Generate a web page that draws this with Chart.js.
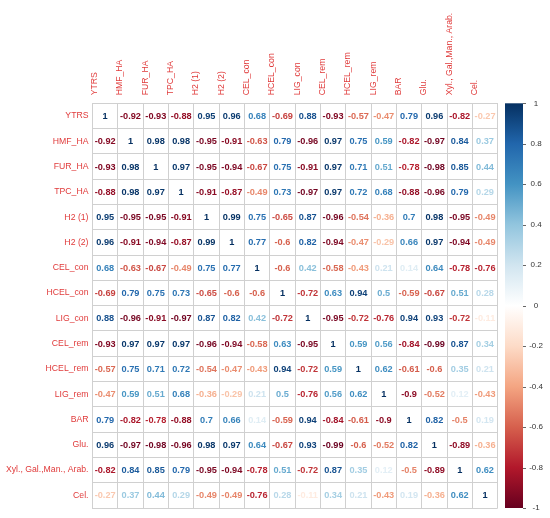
<!DOCTYPE html>
<html>
<head>
<meta charset="utf-8">
<script src="https://cdn.jsdelivr.net/npm/chart.js@4/dist/chart.umd.min.js"></script>
<style>
  html, body { margin: 0; padding: 0; background: #ffffff; overflow: hidden; }
  #wrap { position: relative; width: 550px; height: 518px; }
</style>
</head>
<body>
<div id="wrap"><canvas id="c"></canvas></div>
<script>
// ---- Data ----
const variables = ["YTRS", "HMF_HA", "FUR_HA", "TPC_HA", "H2 (1)", "H2 (2)", "CEL_con", "HCEL_con",
  "LIG_con", "CEL_rem", "HCEL_rem", "LIG_rem", "BAR", "Glu.", "Xyl., Gal.,Man., Arab.", "Cel."];

const rowYTRS    = [1, -0.92, -0.93, -0.88, 0.95, 0.96, 0.68, -0.69, 0.88, -0.93, -0.57, -0.47, 0.79, 0.96, -0.82, -0.27];
const rowHMF     = [-0.92, 1, 0.98, 0.98, -0.95, -0.91, -0.63, 0.79, -0.96, 0.97, 0.75, 0.59, -0.82, -0.97, 0.84, 0.37];
const rowFUR     = [-0.93, 0.98, 1, 0.97, -0.95, -0.94, -0.67, 0.75, -0.91, 0.97, 0.71, 0.51, -0.78, -0.98, 0.85, 0.44];
const rowTPC     = [-0.88, 0.98, 0.97, 1, -0.91, -0.87, -0.49, 0.73, -0.97, 0.97, 0.72, 0.68, -0.88, -0.96, 0.79, 0.29];
const rowH2a     = [0.95, -0.95, -0.95, -0.91, 1, 0.99, 0.75, -0.65, 0.87, -0.96, -0.54, -0.36, 0.7, 0.98, -0.95, -0.49];
const rowH2b     = [0.96, -0.91, -0.94, -0.87, 0.99, 1, 0.77, -0.6, 0.82, -0.94, -0.47, -0.29, 0.66, 0.97, -0.94, -0.49];
const rowCELcon  = [0.68, -0.63, -0.67, -0.49, 0.75, 0.77, 1, -0.6, 0.42, -0.58, -0.43, 0.21, 0.14, 0.64, -0.78, -0.76];
const rowHCELcon = [-0.69, 0.79, 0.75, 0.73, -0.65, -0.6, -0.6, 1, -0.72, 0.63, 0.94, 0.5, -0.59, -0.67, 0.51, 0.28];
const rowLIGcon  = [0.88, -0.96, -0.91, -0.97, 0.87, 0.82, 0.42, -0.72, 1, -0.95, -0.72, -0.76, 0.94, 0.93, -0.72, -0.11];
const rowCELrem  = [-0.93, 0.97, 0.97, 0.97, -0.96, -0.94, -0.58, 0.63, -0.95, 1, 0.59, 0.56, -0.84, -0.99, 0.87, 0.34];
const rowHCELrem = [-0.57, 0.75, 0.71, 0.72, -0.54, -0.47, -0.43, 0.94, -0.72, 0.59, 1, 0.62, -0.61, -0.6, 0.35, 0.21];
const rowLIGrem  = [-0.47, 0.59, 0.51, 0.68, -0.36, -0.29, 0.21, 0.5, -0.76, 0.56, 0.62, 1, -0.9, -0.52, 0.12, -0.43];
const rowBAR     = [0.79, -0.82, -0.78, -0.88, 0.7, 0.66, 0.14, -0.59, 0.94, -0.84, -0.61, -0.9, 1, 0.82, -0.5, 0.19];
const rowGlu     = [0.96, -0.97, -0.98, -0.96, 0.98, 0.97, 0.64, -0.67, 0.93, -0.99, -0.6, -0.52, 0.82, 1, -0.89, -0.36];
const rowXyl     = [-0.82, 0.84, 0.85, 0.79, -0.95, -0.94, -0.78, 0.51, -0.72, 0.87, 0.35, 0.12, -0.5, -0.89, 1, 0.62];
const rowCel     = [-0.27, 0.37, 0.44, 0.29, -0.49, -0.49, -0.76, 0.28, -0.11, 0.34, 0.21, -0.43, 0.19, -0.36, 0.62, 1];

const matrixRows = [rowYTRS, rowHMF, rowFUR, rowTPC, rowH2a, rowH2b, rowCELcon, rowHCELcon,
  rowLIGcon, rowCELrem, rowHCELrem, rowLIGrem, rowBAR, rowGlu, rowXyl, rowCel];

const colorbarTicks = [1, 0.8, 0.6, 0.4, 0.2, 0, -0.2, -0.4, -0.6, -0.8, -1];

// ---- Colour palette (RdBu, as corrplot) ----
const paletteStops = ["#67001F","#B2182B","#D6604D","#F4A582","#FDDBC7","#FFFFFF",
                      "#D1E5F0","#92C5DE","#4393C3","#2166AC","#053061"];
function hexToRgb(h) { return [parseInt(h.slice(1,3),16), parseInt(h.slice(3,5),16), parseInt(h.slice(5,7),16)]; }
function corrColor(v) {
  const t = (Math.max(-1, Math.min(1, v)) + 1) / 2 * (paletteStops.length - 1);
  const i = Math.min(paletteStops.length - 2, Math.floor(t));
  const f = t - i;
  const a = hexToRgb(paletteStops[i]), b = hexToRgb(paletteStops[i + 1]);
  const c = a.map((x, k) => Math.round(x + (b[k] - x) * f));
  return `rgb(${c[0]},${c[1]},${c[2]})`;
}

// Build scatter points from the arrays
const points = [];
matrixRows.forEach((row, r) => {
  row.forEach((v, c) => points.push({ x: variables[c], y: variables[r], v: v }));
});

const LABEL_FONT = "'Liberation Sans', Arial, sans-serif";

const cellTextPlugin = {
  id: 'cellText',
  afterDatasetsDraw(chart) {
    const ctx = chart.ctx;
    const meta = chart.getDatasetMeta(0);
    ctx.save();
    ctx.font = "bold 9.2px " + LABEL_FONT;
    ctx.textAlign = 'center';
    ctx.textBaseline = 'middle';
    meta.data.forEach((el, i) => {
      const v = points[i].v;
      ctx.fillStyle = corrColor(v);
      ctx.fillText((Math.round(v * 100) / 100).toString(), el.x, el.y + 0.5);
    });
    ctx.restore();
  }
};

const colorbarPlugin = {
  id: 'colorbar',
  afterDraw(chart) {
    const sc = chart.scales.yc;
    const ctx = chart.ctx;
    const top = sc.getPixelForValue(1), bot = sc.getPixelForValue(-1);
    const x0 = 505, x1 = 523;
    const g = ctx.createLinearGradient(0, bot, 0, top);
    paletteStops.forEach((c, i) => g.addColorStop(i / (paletteStops.length - 1), c));
    ctx.save();
    ctx.fillStyle = g;
    ctx.fillRect(x0, top, x1 - x0, bot - top);
    ctx.strokeStyle = '#666';
    ctx.lineWidth = 1;
    colorbarTicks.forEach(t => {
      const y = Math.round(sc.getPixelForValue(t)) + 0.5;
      ctx.beginPath();
      ctx.moveTo(x1, y);
      ctx.lineTo(x1 + 3, y);
      ctx.stroke();
    });
    ctx.restore();
  }
};

new Chart(document.getElementById('c'), {
  type: 'scatter',
  data: {
    datasets: [{
      data: points,
      pointRadius: 0,
      pointHoverRadius: 0,
      backgroundColor: 'rgba(0,0,0,0)',
      borderColor: 'rgba(0,0,0,0)'
    }]
  },
  options: {
    responsive: true,
    maintainAspectRatio: false,
    animation: false,
    layout: { padding: { top: 0, left: 0, right: 0, bottom: 10 } },
    plugins: { legend: { display: false }, tooltip: { enabled: false } },
    scales: {
      x: {
        type: 'category',
        labels: variables,
        position: 'top',
        offset: true,
        grid: { display: true, offset: true, color: '#d0d0d0', drawTicks: false, lineWidth: 1 },
        border: { display: true, color: '#d0d0d0' },
        ticks: {
          autoSkip: false, minRotation: 90, maxRotation: 90, padding: 8,
          color: '#e03a3a', font: { family: LABEL_FONT, size: 8.7 }
        },
        afterFit(s) { s.height = 103.3; s.paddingLeft = 0; s.paddingRight = 0; }
      },
      y: {
        type: 'category',
        labels: variables,
        position: 'left',
        offset: true,
        grid: { display: true, offset: true, color: '#d0d0d0', drawTicks: false, lineWidth: 1 },
        border: { display: true, color: '#d0d0d0' },
        ticks: {
          autoSkip: false, padding: 4,
          color: '#e03a3a', font: { family: LABEL_FONT, size: 8.7 }
        },
        afterFit(s) { s.width = 92.5; s.paddingTop = 0; s.paddingBottom = 0; }
      },
      yc: {
        type: 'linear',
        position: 'right',
        min: -1, max: 1,
        grid: { display: false, drawTicks: false },
        border: { display: false },
        ticks: {
          stepSize: 0.2, padding: 31.5, crossAlign: 'center',
          color: '#333', font: { family: LABEL_FONT, size: 8 },
          callback: v => (Math.round(v * 10) / 10).toString()
        },
        afterFit(s) { s.width = 52.3; s.paddingTop = 0; s.paddingBottom = 0; }
      }
    }
  },
  plugins: [cellTextPlugin, colorbarPlugin]
});
</script>
</body>
</html>
